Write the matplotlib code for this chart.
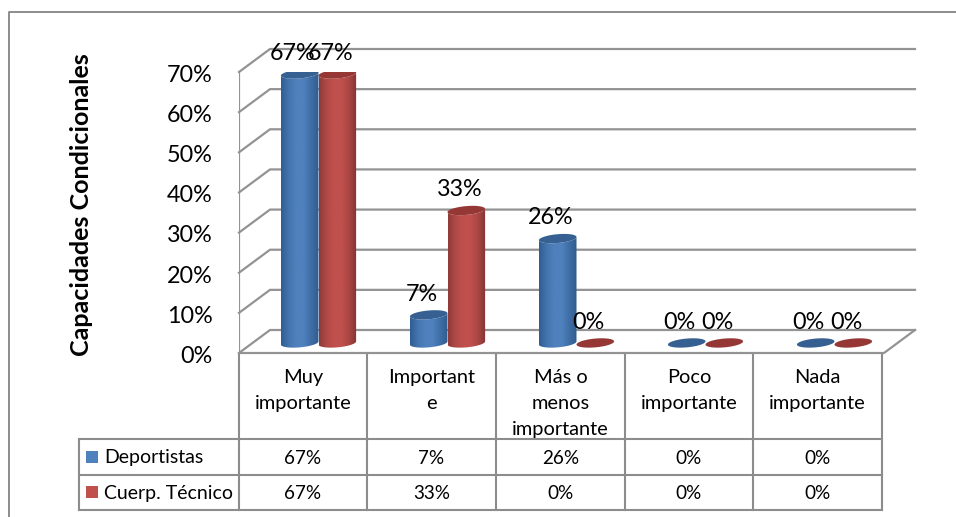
import matplotlib
matplotlib.use('Agg')
import matplotlib.pyplot as plt
import numpy as np
from matplotlib.colors import LinearSegmentedColormap
from matplotlib.patches import Polygon, Rectangle

plt.rcParams['font.family'] = ['Lato', 'DejaVu Sans']

categories = ['Muy\nimportante', 'Important\ne', 'Más o\nmenos\nimportante',
              'Poco\nimportante', 'Nada\nimportante']
series_names = ['Deportistas', 'Cuerp. Técnico']
deportistas = [67, 7, 26, 0, 0]
cuerpo_tecnico = [67, 33, 0, 0, 0]
y_ticks = [0, 10, 20, 30, 40, 50, 60, 70]
y_title = 'Capacidades Condicionales'

W, H = 956, 517
GRID = '#939393'
LINE = '#8c8c8c'
PX_X = 1 / 129.0     # category units per pixel
PX_Y = 70 / 281.0    # percent per pixel


def add_px_axes(fig, left, top, right, bottom):
    return fig.add_axes([left / W, 1 - bottom / H, (right - left) / W, (bottom - top) / H])


def ellipse_points(cx, cy, n=60, half=None):
    # slightly tilted ellipse, right side higher; half=True keeps the lower arc only
    a, b, tilt = 18.8 * PX_X, 4.4 * PX_Y, 1.6 * PX_Y
    t = np.linspace(np.pi, 2 * np.pi, n) if half else np.linspace(0, 2 * np.pi, n)
    return np.column_stack([cx + a * np.cos(t), cy + b * np.sin(t) + tilt * np.cos(t)])


def cylinder(ax, cx, value, cmap, top_color, floor, z):
    a = 18.8 * PX_X
    if value > 0:
        low = ellipse_points(cx, floor, half=True)
        up = ellipse_points(cx, floor + value, half=True)
        body = np.vstack([low, up[::-1]])
        grad = np.linspace(0, 1, 128).reshape(1, -1)
        im = ax.imshow(grad, cmap=cmap, aspect='auto', zorder=z, interpolation='bilinear',
                       extent=[cx - a, cx + a, floor - 2, floor + value + 2])
        im.set_clip_path(Polygon(body, transform=ax.transData))
    ax.add_patch(Polygon(ellipse_points(cx, floor + value), closed=True, fc=top_color,
                         ec='none', zorder=z + 0.1))


fig = plt.figure(figsize=(W / 100, H / 100), dpi=100)

# page-level layer: outer frame, table and titles are laid out in pixels
page = add_px_axes(fig, 0, 0, W, H)
page.set_xlim(0, W)
page.set_ylim(H, 0)
page.axis('off')
page.plot([9, 9, W], [H, 12, 12], color=LINE, lw=1.4, solid_capstyle='butt')

col_x = [239, 367, 496, 625, 753, 882]
row_y = [354, 439, 475, 510]
for x in col_x:
    page.plot([x, x], [row_y[0], row_y[3]], color=LINE, lw=1.5)
page.plot([79, 79], [row_y[1], row_y[3]], color=LINE, lw=1.5)
for y in row_y[1:]:
    page.plot([79, col_x[-1]], [y, y], color=LINE, lw=1.5)

for i, cat in enumerate(categories):
    xc = (col_x[i] + col_x[i + 1]) / 2
    for j, part in enumerate(cat.split('\n')):
        page.text(xc, 377.5 + 26 * j, part, ha='center', va='center', fontsize=14.4)
    page.text(xc, 458.5, f'{deportistas[i]}%', ha='center', va='center', fontsize=13.6)
    page.text(xc, 493.5, f'{cuerpo_tecnico[i]}%', ha='center', va='center', fontsize=13.6)

page.add_patch(Rectangle((86, 451), 12, 12, fc='#4f81bd', ec='none'))
page.add_patch(Rectangle((86, 486), 12, 12, fc='#c0504d', ec='none'))
page.text(104, 458, series_names[0], ha='left', va='center', fontsize=14)
page.text(104, 493, series_names[1], ha='left', va='center', fontsize=14)
page.text(82, 205, y_title, rotation=90, ha='center', va='center',
          fontsize=18, fontweight='bold')

# plot layer: x in category units, y in percent on the front wall
ax = add_px_axes(fig, 239, 72, 884, 353)
ax.axis('off')
ax.patch.set_alpha(0)
depth_x, depth_y = 31 * PX_X, 23 * PX_Y

for v in y_ticks:
    ax.plot([-0.5, -0.5 + depth_x, 4.5 + depth_x], [v, v + depth_y, v + depth_y],
            color=GRID, lw=1.6, clip_on=False, zorder=1)
    ax.annotate(f'{v}%', (-0.5, v), xytext=(-19, -2.4), textcoords='offset points',
                ha='right', va='center', fontsize=16.8, annotation_clip=False)
ax.plot([-0.5, -0.5], [0, 70], color=GRID, lw=1.6, zorder=1)
ax.plot([-0.5, 4.5, 4.5 + depth_x], [0, 0, depth_y], color=GRID, lw=1.6, clip_on=False, zorder=1)

blue = LinearSegmentedColormap.from_list('blue', ['#2f5d91', '#4374ae', '#4f81bd', '#4f81bd', '#3f6ea6', '#305c8e'])
red = LinearSegmentedColormap.from_list('red', ['#8f3a38', '#b04a47', '#c0504d', '#c0504d', '#a94644', '#833432'])

floor = 2.5
for i in range(len(categories)):
    center = i + 15 * PX_X
    cylinder(ax, center - 18.8 * PX_X, deportistas[i], blue, '#376092', floor, 3)
    cylinder(ax, center + 18.8 * PX_X, cuerpo_tecnico[i], red, '#953735', floor, 4)
    for sign, val in ((-1, deportistas[i]), (1, cuerpo_tecnico[i])):
        ax.annotate(f'{val}%', (center + sign * 18.8 * PX_X, val + floor), xytext=(-5, 15),
                    textcoords='offset points', ha='center', va='center', fontsize=16.8,
                    annotation_clip=False, zorder=6)

ax.set_xlim(-0.5, 4.5)
ax.set_ylim(0, 70)

fig.savefig('out.png', dpi=100)
